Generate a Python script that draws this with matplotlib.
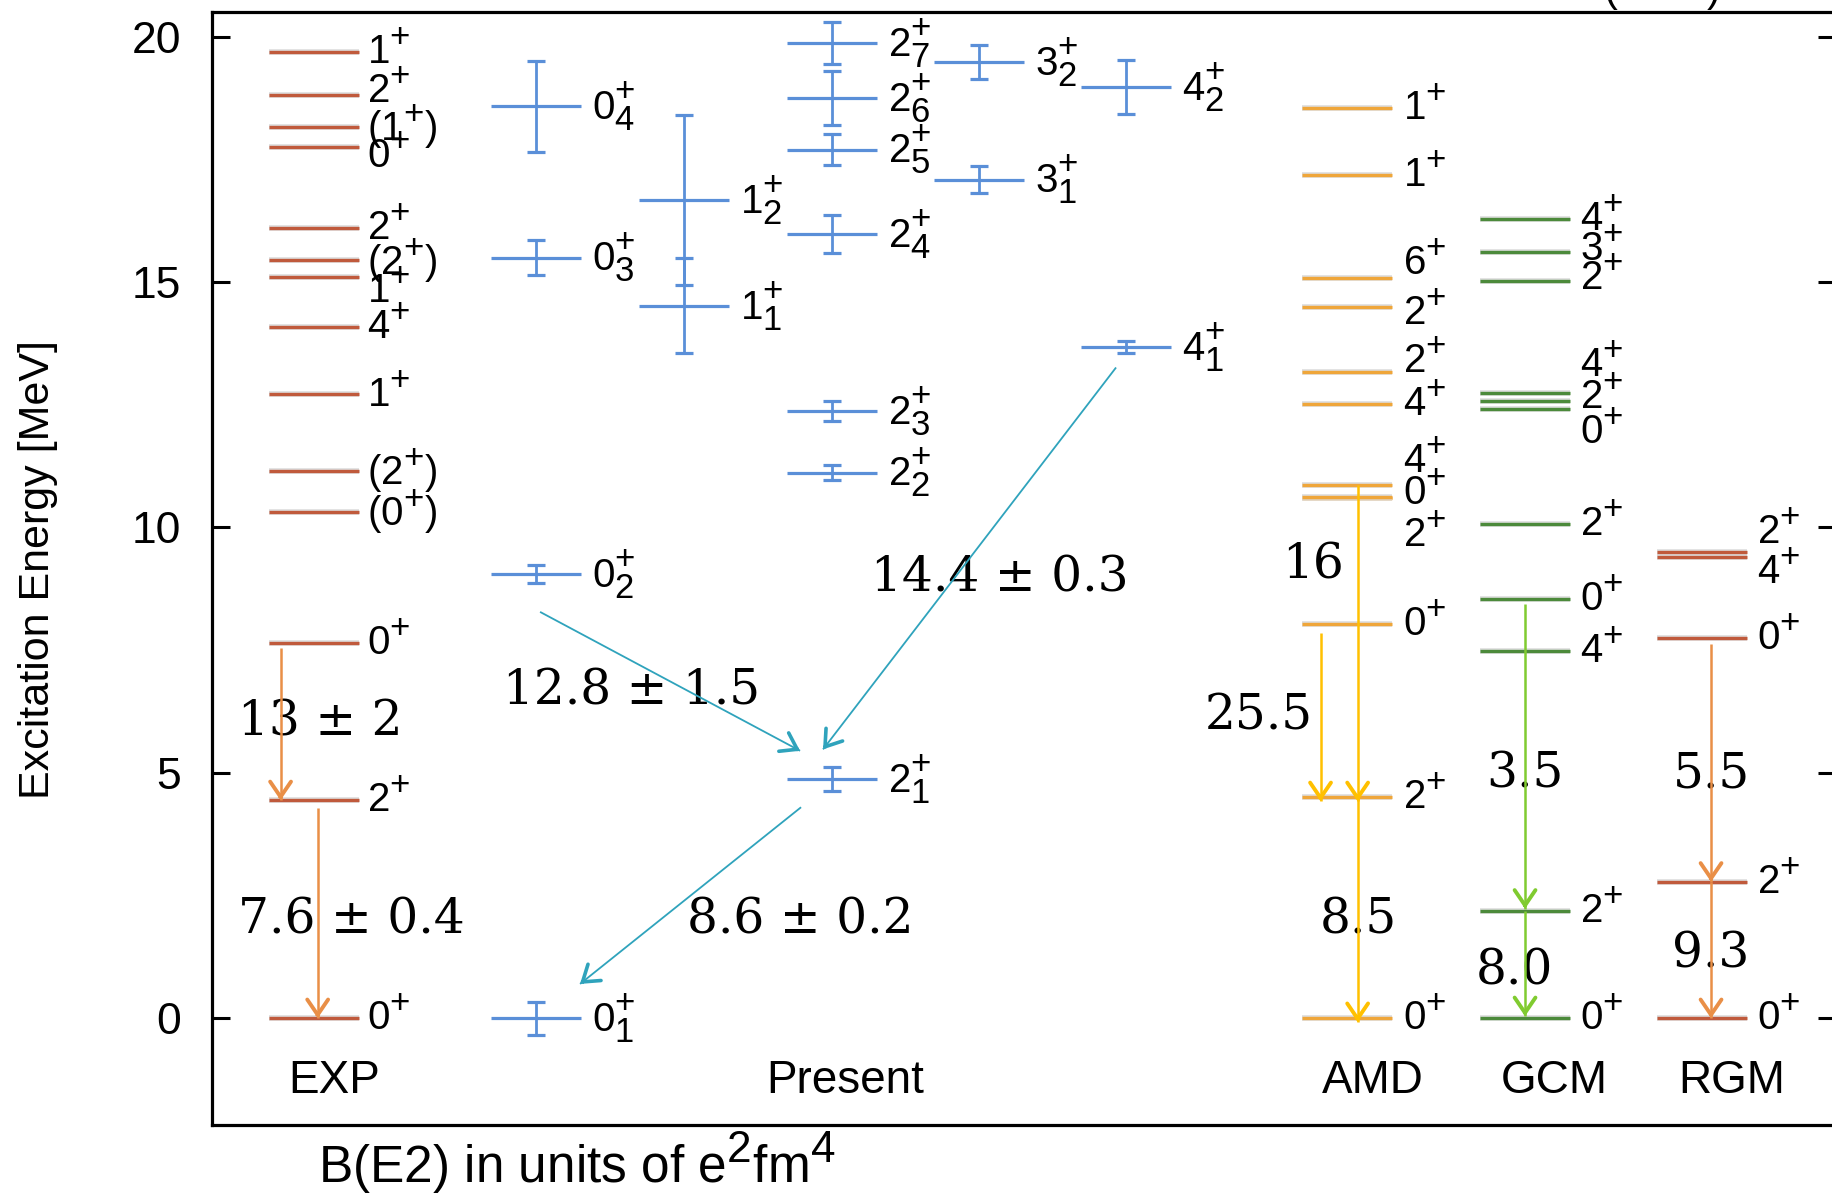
import matplotlib
matplotlib.use("Agg")
import matplotlib.pyplot as plt
import matplotlib.patheffects as pe
from matplotlib.patches import FancyArrowPatch, ArrowStyle
import numpy as np

# larger sub/superscripts for the spin-parity labels
try:
    import matplotlib._mathtext as _mt
    _mt.SHRINK_FACTOR = 0.86
except Exception:
    pass

plt.rcParams['font.family'] = ['Liberation Sans', 'DejaVu Sans']
plt.rcParams['mathtext.fontset'] = 'custom'
plt.rcParams['mathtext.rm'] = 'Liberation Sans'
plt.rcParams['mathtext.it'] = 'Liberation Sans:italic'
plt.rcParams['mathtext.bf'] = 'Liberation Sans:bold'
plt.rcParams['mathtext.sf'] = 'Liberation Sans'

# ---------------- level data (MeV) ----------------
exp_energies = [0.0, 4.44, 7.65, 10.32, 11.16, 12.71, 14.08, 15.11, 15.44, 16.11,
                17.76, 18.16, 18.81, 19.69]
exp_labels = ["0^{+}", "2^{+}", "0^{+}", "(0^{+})", "(2^{+})", "1^{+}", "4^{+}", "1^{+}",
              "(2^{+})", "2^{+}", "0^{+}", "(1^{+})", "2^{+}", "1^{+}"]

present_spin = [0, 0, 0, 0, 1, 1, 2, 2, 2, 2, 2, 2, 2, 3, 3, 4, 4]
present_index = [1, 2, 3, 4, 1, 2, 1, 2, 3, 4, 5, 6, 7, 1, 2, 1, 2]
present_energies = [0.0, 9.05, 15.50, 18.58, 14.52, 16.68, 4.88, 11.12, 12.37, 15.98,
                    17.70, 18.75, 19.87, 17.09, 19.49, 13.67, 18.98]
present_errors = [0.34, 0.18, 0.36, 0.93, 0.97, 1.73, 0.24, 0.16, 0.20, 0.39,
                  0.31, 0.55, 0.42, 0.27, 0.35, 0.12, 0.55]

amd_energies = [0.0, 4.50, 8.04, 10.60, 10.62, 10.86, 12.51, 13.16, 14.50, 15.08, 17.18, 18.54]
amd_labels = ["0^{+}", "2^{+}", "0^{+}", "2^{+}", "0^{+}", "4^{+}", "4^{+}", "2^{+}",
              "2^{+}", "6^{+}", "1^{+}", "1^{+}"]

gcm_energies = [0.0, 2.19, 7.48, 8.54, 10.08, 12.41, 12.57, 12.75, 15.03, 15.62, 16.29]
gcm_labels = ["0^{+}", "2^{+}", "4^{+}", "0^{+}", "2^{+}", "0^{+}", "2^{+}", "4^{+}",
              "2^{+}", "3^{+}", "4^{+}"]

rgm_energies = [0.0, 2.78, 7.75, 9.39, 9.51]
rgm_labels = ["0^{+}", "2^{+}", "0^{+}", "4^{+}", "2^{+}"]

# ---------------- E2 transitions: (from, to) energies and B(E2) ----------------
exp_trans = [(7.65, 4.44), (4.44, 0.0)]
exp_be2 = ["13 ± 2", "7.6 ± 0.4"]

# present transitions given as (spin, index) of initial and final state
present_trans = [((0, 2), (2, 1)), ((4, 1), (2, 1)), ((2, 1), (0, 1))]
present_be2 = ["12.8 ± 1.5", "14.4 ± 0.3", "8.6 ± 0.2"]

amd_trans = [(10.86, 4.50), (8.04, 4.50), (4.50, 0.0)]
amd_be2 = ["16", "25.5", "8.5"]

gcm_trans = [(8.54, 2.19), (2.19, 0.0)]
gcm_be2 = ["3.5", "8.0"]

rgm_trans = [(7.75, 2.78), (2.78, 0.0)]
rgm_be2 = ["5.5", "9.3"]

column_titles = ["EXP", "Present", "AMD", "GCM", "RGM"]
yticks = [0, 5, 10, 15, 20]

# ---------------- styling / layout ----------------
C_EXP = '#C05A3C'
C_BLUE = '#5A8FD8'
C_AMD = '#EFA63A'
C_GCM = '#4C8A3B'
C_TEAL = '#2FA3BC'
C_ORANGE = '#E98F47'
C_YELLOW = '#FFC000'
C_LIME = '#80CB30'

PX_PER_MEV = 49.08        # vertical pixels per MeV
LEVEL_LW = 2.4
LABEL_FS = 29
BE2_FS = 35
HALF_W = 45               # half width of a level line (x units = pixels)

# column centres
X_EXP = 314
X_AMD = 1347
X_GCM = 1525
X_RGM = 1702
present_cols = {0: 536, 1: 684, 2: 832, 3: 979, 4: 1126}

# label nudges (MeV) for crowded levels
exp_nudge = {12: 0.09, 10: -0.20, 7: -0.29}
amd_nudge = {9: 0.30, 8: -0.13, 7: 0.23, 5: 0.50, 4: 0.08, 3: -0.76}
gcm_nudge = {7: 0.56, 6: 0.08, 5: -0.46, 9: 0.05, 8: 0.05}
rgm_nudge = {4: 0.40, 3: -0.30}

fig = plt.figure(figsize=(18.32, 11.95), dpi=100)
ax = fig.add_axes([0.1156, 0.0586, 0.8866, 0.9311])
ax.set_xlim(211.7, 1836)
ax.set_ylim(-2.174, 20.497)

halo = [pe.Stroke(linewidth=LEVEL_LW + 1.6, foreground='#dcdcdc'), pe.Normal()]


def draw_levels(xc, energies, labels, color, nudges, label_dx=10):
    for i, (e, lab) in enumerate(zip(energies, labels)):
        ax.plot([xc - HALF_W, xc + HALF_W], [e, e], color=color, lw=LEVEL_LW,
                solid_capstyle='butt', zorder=3, path_effects=halo)
        ax.text(xc + HALF_W + label_dx, e + nudges.get(i, 0.0), f"${lab}$",
                fontsize=LABEL_FS, va='center', ha='left', zorder=5)


def draw_arrow(x0, y0, x1, y1, color, shaft_lw, head_lw):
    ax.plot([x0, x1], [y0, y1], color=color, lw=shaft_lw, solid_capstyle='butt', zorder=6)
    length_px = np.hypot(x1 - x0, (y1 - y0) * PX_PER_MEV)
    f = 3.0 / length_px
    xa, ya = x1 + (x0 - x1) * f, y1 + (y0 - y1) * f
    head = FancyArrowPatch((xa, ya), (x1, y1),
                           arrowstyle=ArrowStyle('->', head_length=11, head_width=7.5),
                           mutation_scale=1, lw=head_lw, color=color,
                           shrinkA=0, shrinkB=0, zorder=6, capstyle='round',
                           joinstyle='miter')
    ax.add_patch(head)


def be2_text(x, y, s):
    ax.text(x, y, s, fontsize=BE2_FS, ha='center', va='center',
            family=['DejaVu Serif'], zorder=4)


# ---- EXP ----
draw_levels(X_EXP, exp_energies, exp_labels, C_EXP, exp_nudge, label_dx=8)
exp_arrow_x = [280.5, 317.6]
exp_gap = [0.11, 0.15]
for (e0, e1), xa, g in zip(exp_trans, exp_arrow_x, exp_gap):
    draw_arrow(xa, e0 - g, xa, e1, C_ORANGE, 1.8, 2.8)
exp_text_pos = [(320.6, 6.04), (351.5, 2.01)]
for (x, y), s in zip(exp_text_pos, exp_be2):
    be2_text(x, y, s)

# ---- Present (with uncertainties) ----
present_pos = {}
for j, n, e, err in zip(present_spin, present_index, present_energies, present_errors):
    xc = present_cols[j]
    present_pos[(j, n)] = (xc, e)
    ax.plot([xc - HALF_W, xc + HALF_W], [e, e], color=C_BLUE, lw=2.3,
            solid_capstyle='butt', zorder=3)
    ax.errorbar([xc], [e], yerr=[err], fmt='none', ecolor=C_BLUE, elinewidth=2.0,
                capsize=6.8, capthick=2.3, zorder=3)
    ax.text(xc + HALF_W + 11, e, f"${j}_{{{n}}}^{{+}}$", fontsize=LABEL_FS,
            va='center', ha='left', zorder=5)

# arrow end offsets relative to the state positions: (dx0, dy0, dx1, dy1)
present_arrow_offsets = [(4, -0.77, -32, 0.57), (-10, -0.41, -9, 0.60),
                         (-31, -0.58, 44, 0.70)]
present_text_pos = [(631, 6.66), (999.5, 8.97), (800, 2.01)]
for (s0, s1), off, (tx, ty), s in zip(present_trans, present_arrow_offsets,
                                      present_text_pos, present_be2):
    x0, y0 = present_pos[s0]
    x1, y1 = present_pos[s1]
    draw_arrow(x0 + off[0], y0 + off[1], x1 + off[2], y1 + off[3], C_TEAL, 1.3, 2.6)
    be2_text(tx, ty, s)

# ---- AMD ----
draw_levels(X_AMD, amd_energies, amd_labels, C_AMD, amd_nudge, label_dx=11)
amd_arrow_x = [1357.6, 1320.5, 1357.6]
amd_gap = [0.0, 0.18, 0.0]
for (e0, e1), xa, g in zip(amd_trans, amd_arrow_x, amd_gap):
    draw_arrow(xa, e0 - g, xa, e1 - 0.08, C_YELLOW, 1.8, 2.8)
amd_text_pos = [(1313, 9.23), (1259, 6.16), (1358, 2.01)]
for (x, y), s in zip(amd_text_pos, amd_be2):
    be2_text(x, y, s)

# ---- GCM ----
draw_levels(X_GCM, gcm_energies, gcm_labels, C_GCM, gcm_nudge, label_dx=10)
gcm_gap = [0.10, 0.0]
for (e0, e1), g in zip(gcm_trans, gcm_gap):
    draw_arrow(X_GCM, e0 - g, X_GCM, e1 + 0.04, C_LIME, 1.8, 2.8)
gcm_text_pos = [(1525, 4.97), (1514, 0.97)]
for (x, y), s in zip(gcm_text_pos, gcm_be2):
    be2_text(x, y, s)

# ---- RGM ----
draw_levels(X_RGM, rgm_energies, rgm_labels, C_EXP, rgm_nudge, label_dx=10)
rgm_gap = [0.13, 0.0]
for (e0, e1), g in zip(rgm_trans, rgm_gap):
    draw_arrow(1711, e0 - g, 1711, e1, C_ORANGE, 1.8, 2.8)
rgm_text_pos = [(1711, 4.97), (1711, 1.30)]
for (x, y), s in zip(rgm_text_pos, rgm_be2):
    be2_text(x, y, s)

# ---- column titles ----
title_x = [334, 845, 1373, 1554, 1732]
for x, t in zip(title_x, column_titles):
    ax.text(x, -1.27, t, fontsize=33, ha='center', va='center')

# ---- axes frame ----
for sp in ax.spines.values():
    sp.set_linewidth(2.3)
ax.set_xticks([])
ax.set_yticks(yticks)
ax.tick_params(axis='y', direction='in', length=12.7, width=2.2, labelsize=32,
               pad=22, right=True)

fig.text(0.0207, 0.5234, "Excitation Energy [MeV]", rotation=90, fontsize=31,
         ha='center', va='center')
fig.text(0.1736, 0.010, r"B(E2) in units of e$^{2}$fm$^{4}$", fontsize=37,
         ha='left', va='baseline')
fig.text(1603 / 1832, 0.9989, "(", fontsize=30, ha='left', va='baseline')
fig.text(1707 / 1832, 0.9989, ")", fontsize=30, ha='left', va='baseline')

fig.savefig("out.png", dpi=100)
